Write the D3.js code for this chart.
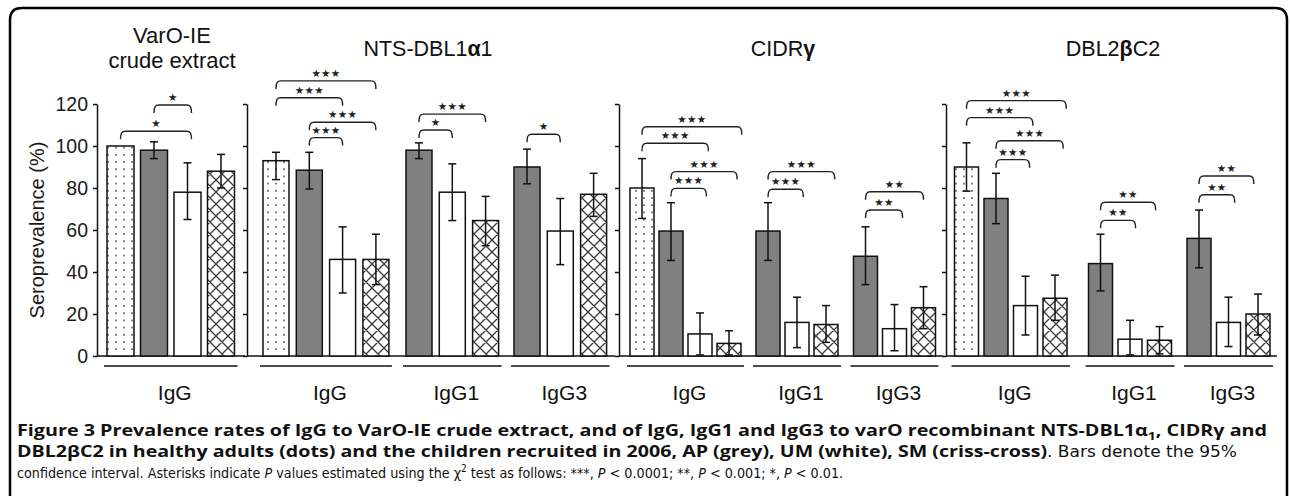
<!DOCTYPE html>
<html>
<head>
<meta charset="utf-8">
<script src="https://cdn.jsdelivr.net/npm/d3@7"></script>
<style>
  body { margin: 0; background: #fff; }
  svg { display: block; font-family: "Liberation Sans", Arial, sans-serif; }
</style>
</head>
<body>
<svg id="chart" width="1290" height="496"></svg>
<script>
// ---- data ----
var panelTitles = [["VarO-IE", "crude extract"], ["NTS-DBL1α1"], ["CIDRγ"], ["DBL2βC2"]];
var seriesNames = ["Adults", "AP", "UM", "SM"];
var groupLabels = ["IgG", "IgG", "IgG1", "IgG3", "IgG", "IgG1", "IgG3", "IgG", "IgG1", "IgG3"];
var groupPanel  = [0, 1, 1, 1, 2, 2, 2, 3, 3, 3];
var yTicks = [0, 20, 40, 60, 80, 100, 120];

var prevalence = [
  [100, 98, 78, 88],
  [93, 88.5, 46, 46], [98, 78, 64.5], [90, 59.5, 77],
  [80, 59.5, 10.5, 6], [59.5, 16, 15], [47.5, 13, 23],
  [90, 75, 24, 27.5], [44, 8, 7.5], [56, 16, 20]
];
var ciLow = [
  [100, 94, 65, 80],
  [84, 79.5, 30, 34], [94, 64.5, 52.5], [82, 43.5, 66.5],
  [65.5, 45.5, 0.5, 0.5], [45.5, 4, 6.5], [34, 2.5, 13],
  [78.5, 63, 10, 17], [31, 0.5, 1], [42, 4.5, 10]
];
var ciHigh = [
  [100, 102, 92, 96],
  [97, 97, 61.5, 58], [101.5, 91.5, 76], [98.5, 75, 87],
  [94, 73, 20.5, 12], [73, 28, 24], [61.5, 24.5, 33],
  [101.5, 87, 38, 38.5], [58, 17, 14], [69.5, 28, 29.5]
];
// significance brackets: [from bar, to bar, level (%), stars]
var brackets = [
  [[0, 2.12, 107, 1], [1, 2.12, 119.5, 1]],
  [[0, 3, 131, 3], [0, 2, 123, 3], [1, 3, 111.3, 3], [1, 2, 104, 3]],
  [[0, 2, 115.2, 3], [0, 1, 107.6, 1]],
  [[0, 1, 105.6, 1]],
  [[0, 3.44, 109.2, 3], [0, 2.29, 101.3, 3], [1, 3.28, 87.8, 3], [1, 2.22, 79.8, 3]],
  [[0, 2.3, 87.8, 3], [0, 1.22, 79.4, 3]],
  [[0, 2, 78.2, 2], [0, 1.28, 69.5, 2]],
  [[0, 3.38, 121.6, 3], [0, 2.25, 113.5, 3], [1, 3.28, 102.5, 3], [1, 2.14, 93.5, 3]],
  [[0, 1.87, 73.2, 2], [0, 1.19, 64.6, 2]],
  [[0, 1.86, 85.7, 2], [0, 1.21, 76.8, 2]]
];

// ---- layout ----
var panelAxisX  = [97, 247, 619, 946];
var panelEndX   = [245, 615, 943, 1277];
var panelTitleX = [172, 428, 783, 1113];
var panelBarW   = [27, 26, 24, 24];
var panelStep   = [33.5, 33.3, 29, 29.5];
var groupX0 = [107, 263, 406, 514, 630, 756, 853.5, 954.5, 1088.5, 1187];

var svg = d3.select("#chart");
var y = d3.scaleLinear().domain([0, 120]).range([356, 104]);

var defs = svg.append("defs");
var dots = defs.append("pattern").attr("id", "dots")
    .attr("patternUnits", "userSpaceOnUse").attr("width", 8).attr("height", 7.2);
dots.append("rect").attr("width", 8).attr("height", 7.2).attr("fill", "#fff");
dots.append("circle").attr("cx", 4).attr("cy", 3.6).attr("r", 0.95).attr("fill", "#444");

var cross = defs.append("pattern").attr("id", "cross")
    .attr("patternUnits", "userSpaceOnUse").attr("width", 12).attr("height", 12);
cross.append("rect").attr("width", 12).attr("height", 12).attr("fill", "#fff");
cross.append("path").attr("d", "M0,0L12,12M12,0L0,12M-1,11L1,13M11,-1L13,1M11,13L13,11M-1,1L1,-1")
    .attr("stroke", "#3c3c3c").attr("stroke-width", 1.3);

var fills = {Adults: "url(#dots)", AP: "#808080", UM: "#ffffff", SM: "url(#cross)"};

// frame
svg.append("path")
    .attr("d", "M10,510 L10,20 Q10,8 22,8 L1275,8 Q1287,8 1287,20 L1287,510")
    .attr("fill", "none").attr("stroke", "#000").attr("stroke-width", 2.5);

// panels: axes, baselines, titles
panelAxisX.forEach(function(ax, p) {
    var axis = d3.axisLeft(y).tickValues(yTicks).tickSize(4).tickSizeOuter(0).tickPadding(5);
    if (p > 0) axis.tickFormat("");
    var g = svg.append("g")
        .attr("transform", "translate(" + ax + ",0)")
        .call(axis);
    g.attr("font-family", "Liberation Sans, Arial, sans-serif");
    g.selectAll("path, line").attr("stroke", "#111").attr("stroke-width", 1.5);
    g.selectAll("text").attr("font-size", "19.5px").attr("fill", "#1a1a1a");

    svg.append("line")
        .attr("x1", ax).attr("x2", panelEndX[p])
        .attr("y1", y(0)).attr("y2", y(0))
        .attr("stroke", "#111").attr("stroke-width", 1.5);

    var lines = panelTitles[p];
    lines.forEach(function(t, i) {
        var txt = svg.append("text")
            .attr("x", panelTitleX[p])
            .attr("y", lines.length > 1 ? 43 + i * 25 : 56)
            .attr("text-anchor", "middle")
            .attr("font-size", lines.length > 1 ? "22px" : "21.5px")
            .attr("fill", "#111");
        t.split(/([αβγ])/).forEach(function(part) {
            if (!part) return;
            txt.append("tspan").text(part)
                .attr("font-weight", /[αβγ]/.test(part) ? "bold" : null);
        });
    });
});

svg.append("text")
    .attr("transform", "translate(44,230) rotate(-90)")
    .attr("text-anchor", "middle")
    .attr("font-size", "20px")
    .attr("fill", "#1a1a1a")
    .text("Seroprevalence (%)");

// groups
prevalence.forEach(function(vals, gi) {
    var p = groupPanel[gi];
    var names = vals.length == 4 ? seriesNames : seriesNames.slice(1);
    var w = panelBarW[p], step = panelStep[p];
    var xs = d3.scaleBand().domain(names)
        .range([groupX0[gi], groupX0[gi] + step * (names.length - 1) + w])
        .paddingInner(1 - w / step).paddingOuter(0);
    var bw = xs.bandwidth();
    var rows = names.map(function(s, i) {
        return {s: s, v: vals[i], lo: ciLow[gi][i], hi: ciHigh[gi][i]};
    });
    var g = svg.append("g");

    g.selectAll("rect.bar").data(rows).enter().append("rect")
        .attr("class", "bar")
        .attr("x", d => xs(d.s))
        .attr("y", d => y(d.v))
        .attr("width", bw)
        .attr("height", d => y(0) - y(d.v))
        .attr("fill", d => fills[d.s])
        .attr("stroke", "#111").attr("stroke-width", 1.5);

    var eb = g.selectAll("g.err").data(rows.filter(d => d.hi > d.lo)).enter().append("g")
        .attr("stroke", "#111").attr("stroke-width", 1.5);
    eb.append("line")
        .attr("x1", d => xs(d.s) + bw / 2).attr("x2", d => xs(d.s) + bw / 2)
        .attr("y1", d => y(d.lo)).attr("y2", d => y(d.hi));
    eb.append("line")
        .attr("x1", d => xs(d.s) + bw / 2 - 4).attr("x2", d => xs(d.s) + bw / 2 + 4)
        .attr("y1", d => y(d.hi)).attr("y2", d => y(d.hi));
    eb.append("line")
        .attr("x1", d => xs(d.s) + bw / 2 - 4).attr("x2", d => xs(d.s) + bw / 2 + 4)
        .attr("y1", d => y(d.lo)).attr("y2", d => y(d.lo));

    // underline + label
    var r = xs.range();
    svg.append("line")
        .attr("x1", r[0] - 3).attr("x2", r[1] + 3)
        .attr("y1", 366).attr("y2", 366)
        .attr("stroke", "#111").attr("stroke-width", 1.5);
    svg.append("text")
        .attr("x", (r[0] + r[1]) / 2 + 4).attr("y", 400)
        .attr("text-anchor", "middle")
        .attr("font-size", "21px").attr("fill", "#111")
        .text(groupLabels[gi]);

    // brackets
    var cx = function(i) { return xs(names[0]) + bw / 2 + i * xs.step(); };
    brackets[gi].forEach(function(b) {
        var x1 = cx(b[0]), x2 = cx(b[1]), yy = y(b[2]);
        g.append("path")
            .attr("d", "M" + x1 + "," + (yy + 8) + " C" + x1 + "," + (yy + 2) + " " + (x1 + 1) + "," + yy + " " + (x1 + 5) + "," + yy +
                " L" + (x2 - 5) + "," + yy + " C" + (x2 - 1) + "," + yy + " " + x2 + "," + (yy + 2) + " " + x2 + "," + (yy + 8))
            .attr("fill", "none").attr("stroke", "#222").attr("stroke-width", 1.4);
        g.append("text")
            .attr("x", (x1 + x2) / 2).attr("y", yy - 4)
            .attr("text-anchor", "middle")
            .attr("font-family", "DejaVu Sans, sans-serif")
            .attr("font-size", "10.5px").attr("letter-spacing", "0.3px")
            .attr("fill", "#222")
            .text("★".repeat(b[3]));
    });
});

// caption
var narrow = "DejaVu Sans Condensed, Roboto, sans-serif";
var cap = svg.append("g")
    .attr("font-family", "Open Sans, Noto Sans, sans-serif")
    .attr("fill", "#111");
var l1 = cap.append("text").attr("x", 17).attr("y", 436)
    .attr("font-size", "15.6px").attr("font-weight", "bold")
    .attr("textLength", 1250).attr("lengthAdjust", "spacingAndGlyphs");
l1.append("tspan").text("Figure 3 Prevalence rates of IgG to VarO-IE crude extract, and of IgG, IgG1 and IgG3 to varO recombinant NTS-DBL1α");
l1.append("tspan").attr("font-size", "11px").attr("dy", 4).text("1");
l1.append("tspan").attr("dy", -4).text(", CIDRγ and");

var l2 = cap.append("text").attr("x", 17).attr("y", 457)
    .attr("font-size", "15.6px")
    .attr("textLength", 1220).attr("lengthAdjust", "spacingAndGlyphs");
l2.append("tspan").attr("font-weight", "bold")
    .text("DBL2βC2 in healthy adults (dots) and the children recruited in 2006, AP (grey), UM (white), SM (criss-cross)");
l2.append("tspan").attr("font-family", narrow).attr("font-size", "15px").text(". Bars denote the 95%");

var l3 = cap.append("text").attr("x", 17).attr("y", 478)
    .attr("font-family", narrow).attr("font-size", "14.2px");
l3.append("tspan").text("confidence interval. Asterisks indicate ");
l3.append("tspan").attr("font-style", "italic").text("P");
l3.append("tspan").text(" values estimated using the χ");
l3.append("tspan").attr("font-size", "10px").attr("dy", -6).text("2");
l3.append("tspan").attr("dy", 6).text(" test as follows: ***, ");
l3.append("tspan").attr("font-style", "italic").text("P");
l3.append("tspan").text(" < 0.0001; **, ");
l3.append("tspan").attr("font-style", "italic").text("P");
l3.append("tspan").text(" < 0.001; *, ");
l3.append("tspan").attr("font-style", "italic").text("P");
l3.append("tspan").text(" < 0.01.");
</script>
</body>
</html>
